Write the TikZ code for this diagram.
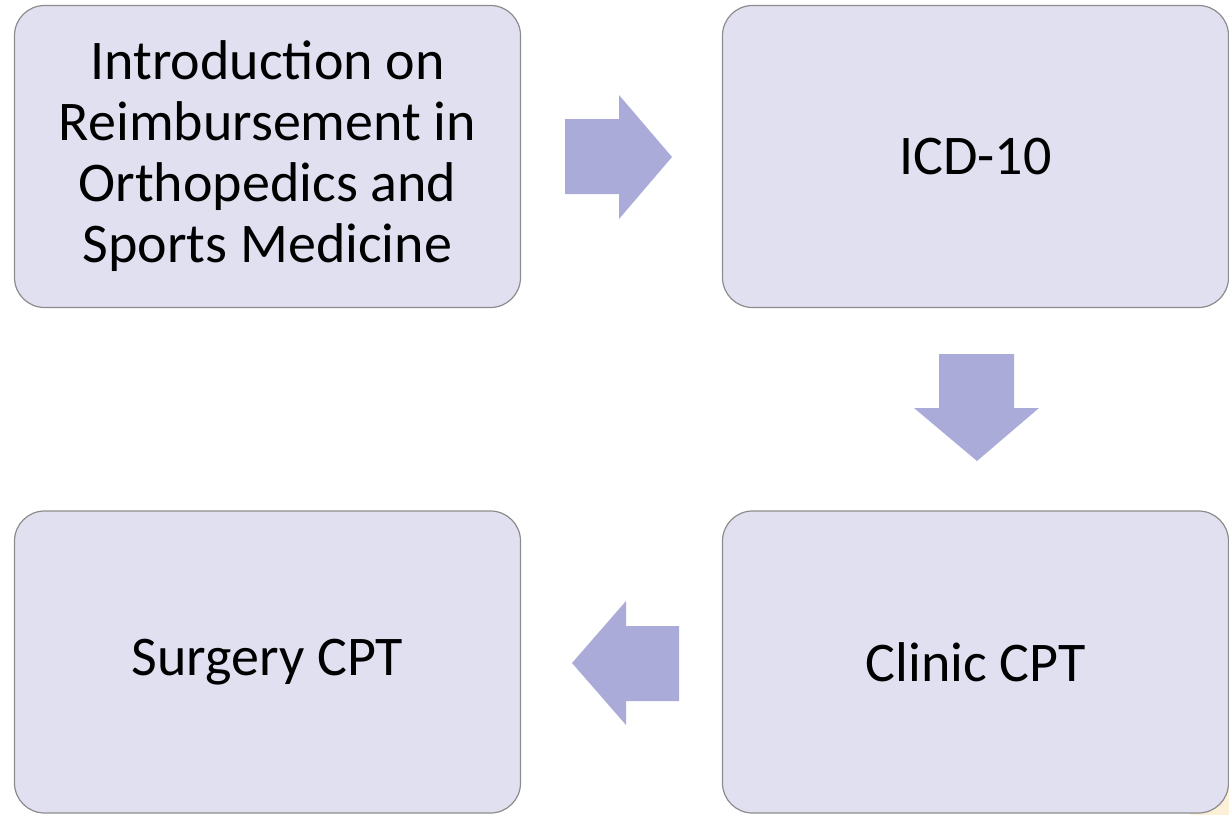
\documentclass[tikz,border=0pt]{standalone}
\usepackage{fontspec}
\setmainfont{Carlito}
\definecolor{boxfill}{HTML}{E0E0F1}
\definecolor{boxline}{HTML}{8C8C8C}
\definecolor{arrowfill}{HTML}{ABABDA}
\definecolor{beige}{HTML}{FDF0D8}
\begin{document}
\begin{tikzpicture}[x=1pt,y=-1pt,
  stepbox/.style={draw=boxline, line width=1.2pt, fill=boxfill, rounded corners=30pt,
    minimum width=506pt, minimum height=302pt, inner sep=0pt, align=center,
    font=\fontsize{56}{61}\selectfont},
  flowarrow/.style={fill=arrowfill, draw=none}]
\useasboundingbox (0,0) rectangle (1229,815);
\fill[beige] (1190,775) rectangle (1229,815);
\node[stepbox] (intro) at (267.5,156.5) {Introduction on\\Reimbursement in\\Orthopedics and\\Sports Medicine};
\node[stepbox] (icd) at (975.5,156.5) {ICD-10};
\node[stepbox] (clinic) at (975.5,662) {Clinic CPT};
\node[stepbox] (surgery) at (267.5,662) {Surgery CPT};
% right arrow
\fill[flowarrow] (565,119) -- (619,119) -- (619,95) -- (672,157) -- (619,219) -- (619,194) -- (565,194) -- cycle;
% down arrow
\fill[flowarrow] (939,354) -- (1014,354) -- (1014,408) -- (1039,408) -- (977,461) -- (914,408) -- (939,408) -- cycle;
% left arrow
\fill[flowarrow] (679,626) -- (626,626) -- (626,601) -- (572,663) -- (626,725) -- (626,701) -- (679,701) -- cycle;
\end{tikzpicture}
\end{document}
